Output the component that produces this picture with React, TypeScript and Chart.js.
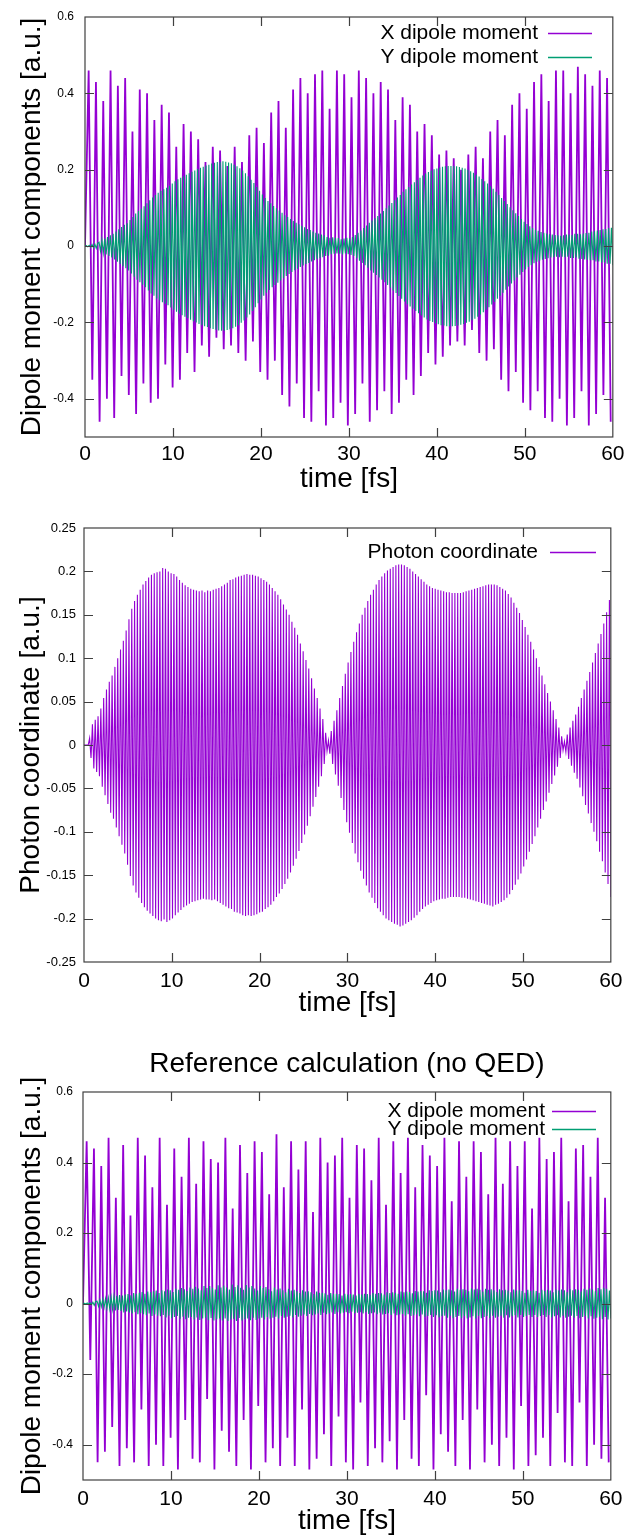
import { useEffect, useRef } from "react";
import { Chart, registerables } from "chart.js";

Chart.register(...registerables);

const FONT = '"Liberation Sans", Arial, Helvetica, sans-serif';
const PURPLE = "#9400D3";
const GREEN = "#009E73";
const FRAME = "#404040";

// ---- tick values ----
const TIME_TICKS = [0, 10, 20, 30, 40, 50, 60];
const DIPOLE_TICKS = [-0.4, -0.2, 0, 0.2, 0.4, 0.6];
const PHOTON_TICKS = [-0.25, -0.2, -0.15, -0.1, -0.05, 0, 0.05, 0.1, 0.15, 0.2, 0.25];

// ---- sampling of the read extrema (fs between successive values) ----
const DIPOLE_STEP = 0.415;
const FAST_STEP = 0.16;

// ---- panel 1: QED run, X dipole moment (successive extrema) ----
const qedX = [
  0,
  0.46, -0.35, 0.43, -0.46, 0.38, -0.4, 0.46, -0.45, 0.42, -0.34,
  0.44, -0.39, 0.3, -0.44, 0.41, -0.36, 0.4, -0.41, 0.33, -0.4,
  0.37, -0.31, 0.35, -0.37, 0.26, -0.35, 0.32, -0.28, 0.3, -0.33,
  0.28, -0.26, 0.22, -0.29, 0.26, -0.24, 0.25, -0.27, 0.21, -0.26,
  0.26, -0.28, 0.22, -0.3, 0.29, -0.25, 0.31, -0.33, 0.27, -0.35,
  0.35, -0.3, 0.38, -0.39, 0.31, -0.42, 0.41, -0.36, 0.44, -0.45,
  0.4, -0.46, 0.45, -0.38, 0.46, -0.47, 0.36, -0.45, 0.46, -0.41,
  0.45, -0.47, 0.39, -0.44, 0.46, -0.36, 0.44, -0.46, 0.4, -0.43,
  0.43, -0.38, 0.41, -0.44, 0.33, -0.41, 0.39, -0.35, 0.37, -0.39,
  0.3, -0.34, 0.32, -0.28, 0.29, -0.31, 0.24, -0.29, 0.25, -0.26,
  0.23, -0.25, 0.2, -0.26, 0.24, -0.22, 0.26, -0.28, 0.23, -0.3,
  0.3, -0.27, 0.33, -0.35, 0.29, -0.38, 0.37, -0.33, 0.4, -0.41,
  0.36, -0.43, 0.43, -0.38, 0.45, -0.45, 0.38, -0.46, 0.46, -0.4,
  0.46, -0.47, 0.4, -0.45, 0.47, -0.38, 0.45, -0.47, 0.42, -0.44,
  0.46, -0.39, 0.44, -0.46,
];

// ---- panel 1: QED run, Y dipole moment (successive extrema) ----
const qedY = [
  0, 0.001, -0.002, 0.002, -0.003, 0.004, -0.004, 0.005, -0.006, 0.007,
  0.01, -0.013, 0.016, -0.018, 0.02, -0.022, 0.024, -0.026, 0.028, -0.03,
  0.032, -0.035, 0.038, -0.041, 0.044, -0.047, 0.05, -0.053, 0.056, -0.058,
  0.06, -0.064, 0.068, -0.072, 0.076, -0.08, 0.085, -0.088, 0.092, -0.095,
  0.098, -0.101, 0.104, -0.108, 0.112, -0.116, 0.12, -0.124, 0.127, -0.13,
  0.134, -0.137, 0.14, -0.142, 0.145, -0.147, 0.149, -0.151, 0.153, -0.155,
  0.158, -0.161, 0.164, -0.167, 0.17, -0.172, 0.175, -0.177, 0.179, -0.181,
  0.183, -0.185, 0.187, -0.189, 0.191, -0.193, 0.195, -0.197, 0.198, -0.2,
  0.202, -0.204, 0.205, -0.207, 0.208, -0.21, 0.211, -0.212, 0.213, -0.215,
  0.216, -0.217, 0.218, -0.219, 0.22, -0.221, 0.221, -0.222, 0.222, -0.222,
  0.221, -0.22, 0.219, -0.218, 0.217, -0.215, 0.213, -0.211, 0.209, -0.207,
  0.204, -0.201, 0.198, -0.195, 0.191, -0.187, 0.183, -0.179, 0.174, -0.17,
  0.165, -0.16, 0.155, -0.15, 0.145, -0.14, 0.135, -0.13, 0.126, -0.122,
  0.118, -0.115, 0.112, -0.108, 0.105, -0.102, 0.099, -0.096, 0.093, -0.09,
  0.087, -0.084, 0.081, -0.078, 0.076, -0.073, 0.071, -0.068, 0.066, -0.063,
  0.061, -0.059, 0.057, -0.055, 0.053, -0.051, 0.049, -0.047, 0.045, -0.044,
  0.042, -0.04, 0.038, -0.037, 0.035, -0.034, 0.033, -0.031, 0.03, -0.029,
  0.028, -0.026, 0.024, -0.025, 0.022, -0.021, 0.023, -0.02, 0.022, -0.019,
  0.021, -0.02, 0.018, -0.022, 0.02, -0.019, 0.022, -0.021, 0.02, -0.023,
  0.024, -0.026, 0.029, -0.032, 0.035, -0.038, 0.041, -0.044, 0.047, -0.05,
  0.054, -0.057, 0.061, -0.064, 0.067, -0.07, 0.073, -0.076, 0.079, -0.082,
  0.085, -0.088, 0.092, -0.095, 0.099, -0.102, 0.106, -0.109, 0.113, -0.116,
  0.12, -0.123, 0.127, -0.131, 0.134, -0.138, 0.142, -0.145, 0.149, -0.152,
  0.155, -0.158, 0.161, -0.164, 0.167, -0.17, 0.173, -0.176, 0.179, -0.182,
  0.185, -0.187, 0.19, -0.192, 0.194, -0.196, 0.198, -0.199, 0.201, -0.202,
  0.203, -0.205, 0.206, -0.207, 0.208, -0.208, 0.209, -0.21, 0.21, -0.21,
  0.21, -0.21, 0.21, -0.209, 0.209, -0.208, 0.207, -0.206, 0.205, -0.204,
  0.203, -0.201, 0.2, -0.198, 0.196, -0.194, 0.192, -0.19, 0.187, -0.185,
  0.182, -0.179, 0.176, -0.173, 0.17, -0.167, 0.164, -0.16, 0.157, -0.153,
  0.15, -0.146, 0.142, -0.138, 0.134, -0.13, 0.126, -0.122, 0.118, -0.114,
  0.11, -0.106, 0.102, -0.098, 0.094, -0.09, 0.086, -0.082, 0.079, -0.075,
  0.071, -0.068, 0.064, -0.061, 0.058, -0.055, 0.052, -0.05, 0.047, -0.045,
  0.043, -0.041, 0.04, -0.038, 0.037, -0.036, 0.035, -0.034, 0.033, -0.032,
  0.031, -0.03, 0.03, -0.029, 0.029, -0.028, 0.028, -0.029, 0.027, -0.028,
  0.028, -0.029, 0.03, -0.028, 0.03, -0.031, 0.029, -0.031, 0.032, -0.03,
  0.032, -0.033, 0.031, -0.034, 0.033, -0.035, 0.034, -0.036, 0.035, -0.037,
  0.038, -0.037, 0.039, -0.04, 0.041, -0.04, 0.042, -0.043, 0.044, -0.043,
  0.045, -0.046, 0.047, -0.046, 0.048, -0.05,
];

// ---- panel 2: photon coordinate (successive extrema) ----
const photon = [
  0, 0, 0, 0, 0.008, -0.015, 0.024, -0.027, 0.029, -0.031,
  0.033, -0.036, 0.042, -0.048, 0.054, -0.058, 0.064, -0.068, 0.073, -0.078,
  0.08, -0.085, 0.09, -0.095, 0.1, -0.105, 0.11, -0.115, 0.12, -0.125,
  0.132, -0.138, 0.145, -0.151, 0.157, -0.162, 0.166, -0.17, 0.173, -0.176,
  0.179, -0.182, 0.185, -0.187, 0.189, -0.191, 0.193, -0.194, 0.196, -0.197,
  0.198, -0.2, 0.199, -0.202, 0.2, -0.203, 0.204, -0.201, 0.203, -0.204,
  0.2, -0.202, 0.198, -0.2, 0.197, -0.196, 0.194, -0.193, 0.19, -0.19,
  0.187, -0.187, 0.184, -0.185, 0.182, -0.183, 0.18, -0.181, 0.179, -0.18,
  0.178, -0.179, 0.177, -0.178, 0.178, -0.177, 0.176, -0.178, 0.178, -0.178,
  0.177, -0.179, 0.179, -0.178, 0.18, -0.18, 0.181, -0.182, 0.183, -0.184,
  0.185, -0.186, 0.187, -0.188, 0.19, -0.189, 0.191, -0.192, 0.193, -0.193,
  0.194, -0.194, 0.195, -0.196, 0.196, -0.197, 0.197, -0.196, 0.196, -0.197,
  0.196, -0.196, 0.195, -0.195, 0.194, -0.193, 0.192, -0.192, 0.19, -0.189,
  0.188, -0.187, 0.185, -0.184, 0.181, -0.18, 0.177, -0.175, 0.173, -0.171,
  0.168, -0.166, 0.162, -0.16, 0.156, -0.154, 0.15, -0.147, 0.142, -0.139,
  0.135, -0.131, 0.127, -0.122, 0.117, -0.113, 0.108, -0.103, 0.098, -0.093,
  0.088, -0.082, 0.077, -0.071, 0.065, -0.06, 0.054, -0.048, 0.042, -0.036,
  0.03, -0.022, 0.014, -0.007, 0.005, -0.01, 0.016, -0.022, 0.028, -0.034,
  0.04, -0.047, 0.054, -0.061, 0.068, -0.075, 0.082, -0.089, 0.095, -0.101,
  0.107, -0.113, 0.119, -0.125, 0.13, -0.135, 0.14, -0.145, 0.15, -0.154,
  0.158, -0.162, 0.166, -0.17, 0.173, -0.176, 0.179, -0.182, 0.185, -0.188,
  0.19, -0.192, 0.194, -0.196, 0.198, -0.2, 0.201, -0.202, 0.203, -0.204,
  0.205, -0.206, 0.207, -0.207, 0.208, -0.209, 0.208, -0.208, 0.207, -0.206,
  0.205, -0.204, 0.203, -0.202, 0.2, -0.199, 0.197, -0.196, 0.194, -0.192,
  0.191, -0.189, 0.188, -0.186, 0.185, -0.184, 0.183, -0.182, 0.181, -0.18,
  0.18, -0.179, 0.179, -0.178, 0.178, -0.177, 0.177, -0.177, 0.176, -0.176,
  0.176, -0.175, 0.175, -0.175, 0.175, -0.175, 0.175, -0.175, 0.175, -0.176,
  0.176, -0.176, 0.177, -0.177, 0.178, -0.178, 0.179, -0.179, 0.18, -0.18,
  0.181, -0.181, 0.182, -0.182, 0.183, -0.183, 0.184, -0.184, 0.185, -0.185,
  0.185, -0.186, 0.185, -0.184, 0.184, -0.183, 0.182, -0.181, 0.18, -0.179,
  0.178, -0.176, 0.174, -0.172, 0.17, -0.167, 0.164, -0.161, 0.158, -0.155,
  0.152, -0.148, 0.144, -0.14, 0.136, -0.132, 0.127, -0.123, 0.119, -0.114,
  0.11, -0.105, 0.1, -0.095, 0.09, -0.085, 0.08, -0.075, 0.07, -0.065,
  0.06, -0.055, 0.05, -0.045, 0.04, -0.035, 0.03, -0.025, 0.02, -0.015,
  0.01, -0.006, 0.004, -0.008, 0.012, -0.016, 0.02, -0.024, 0.028, -0.032,
  0.035, -0.039, 0.044, -0.049, 0.054, -0.059, 0.064, -0.069, 0.074, -0.079,
  0.084, -0.09, 0.095, -0.1, 0.106, -0.111, 0.117, -0.123, 0.128, -0.134,
  0.14, -0.147, 0.153, -0.16, 0.167, -0.175,
];

// ---- panel 3: reference run (no QED), X dipole moment ----
const refX = [
  0,
  0.46, -0.16, 0.44, -0.45, 0.39, -0.42, 0.47, -0.35, 0.3, -0.46,
  0.45, -0.41, 0.25, -0.45, 0.47, -0.3, 0.42, -0.46, 0.33, -0.4,
  0.47, -0.46, 0.28, -0.38, 0.44, -0.47, 0.36, -0.33, 0.47, -0.44,
  0.34, -0.45, 0.46, -0.27, 0.41, -0.47, 0.4, -0.36, 0.47, -0.42,
  0.27, -0.46, 0.45, -0.33, 0.37, -0.47, 0.46, -0.29, 0.43, -0.45,
  0.31, -0.41, 0.48, -0.46, 0.33, -0.38, 0.46, -0.46, 0.38, -0.3,
  0.46, -0.47, 0.26, -0.44, 0.47, -0.37, 0.4, -0.46, 0.42, -0.32,
  0.47, -0.45, 0.3, -0.47, 0.45, -0.28, 0.44, -0.46, 0.35, -0.41,
  0.47, -0.45, 0.28, -0.39, 0.46, -0.47, 0.37, -0.33, 0.47, -0.44,
  0.33, -0.46, 0.45, -0.26, 0.42, -0.47, 0.39, -0.37, 0.47, -0.42,
  0.29, -0.46, 0.46, -0.33, 0.36, -0.47, 0.46, -0.3, 0.43, -0.45,
  0.31, -0.4, 0.47, -0.46, 0.34, -0.38, 0.46, -0.47, 0.39, -0.29,
  0.46, -0.46, 0.27, -0.43, 0.47, -0.38, 0.41, -0.46, 0.43, -0.31,
  0.47, -0.45, 0.29, -0.46, 0.44, -0.28, 0.45, -0.46, 0.36, -0.4,
  0.47, -0.44, 0.3, -0.45,
];

// ---- panel 3: reference run (no QED), Y dipole moment (successive extrema) ----
const refY = [
  0, 0.001, -0.001, 0.002, -0.002, 0.003, -0.003, 0.004, -0.005, 0.006,
  0.007, -0.008, 0.01, -0.009, 0.012, -0.011, 0.014, -0.013, 0.016, -0.015,
  0.018, -0.016, 0.02, -0.019, 0.022, -0.018, 0.024, -0.021, 0.023, -0.025,
  0.026, -0.022, 0.027, -0.025, 0.024, -0.028, 0.03, -0.024, 0.028, -0.03,
  0.031, -0.027, 0.033, -0.03, 0.028, -0.033, 0.034, -0.028, 0.032, -0.035,
  0.035, -0.031, 0.037, -0.034, 0.03, -0.036, 0.038, -0.032, 0.035, -0.039,
  0.04, -0.034, 0.038, -0.041, 0.033, -0.038, 0.042, -0.035, 0.039, -0.043,
  0.044, -0.037, 0.041, -0.044, 0.036, -0.04, 0.046, -0.038, 0.042, -0.045,
  0.048, -0.039, 0.043, -0.046, 0.038, -0.042, 0.05, -0.04, 0.044, -0.047,
  0.05, -0.041, 0.045, -0.048, 0.04, -0.044, 0.052, -0.042, 0.046, -0.048,
  0.051, -0.042, 0.046, -0.049, 0.04, -0.045, 0.054, -0.043, 0.047, -0.049,
  0.052, -0.041, 0.045, -0.048, 0.039, -0.044, 0.053, -0.042, 0.046, -0.047,
  0.05, -0.04, 0.043, -0.046, 0.037, -0.042, 0.05, -0.04, 0.044, -0.045,
  0.047, -0.038, 0.041, -0.043, 0.035, -0.04, 0.046, -0.037, 0.04, -0.042,
  0.043, -0.035, 0.038, -0.04, 0.032, -0.037, 0.042, -0.034, 0.037, -0.039,
  0.039, -0.032, 0.035, -0.037, 0.03, -0.034, 0.038, -0.031, 0.034, -0.035,
  0.035, -0.029, 0.032, -0.033, 0.027, -0.031, 0.034, -0.028, 0.031, -0.032,
  0.031, -0.026, 0.029, -0.03, 0.025, -0.028, 0.03, -0.025, 0.028, -0.029,
  0.028, -0.024, 0.027, -0.028, 0.023, -0.026, 0.028, -0.024, 0.026, -0.027,
  0.027, -0.023, 0.026, -0.027, 0.023, -0.026, 0.028, -0.024, 0.026, -0.028,
  0.028, -0.024, 0.027, -0.029, 0.025, -0.027, 0.03, -0.025, 0.028, -0.03,
  0.03, -0.026, 0.029, -0.031, 0.026, -0.029, 0.032, -0.027, 0.03, -0.032,
  0.032, -0.028, 0.031, -0.033, 0.028, -0.031, 0.034, -0.029, 0.032, -0.034,
  0.034, -0.03, 0.033, -0.035, 0.029, -0.033, 0.036, -0.031, 0.034, -0.036,
  0.036, -0.031, 0.035, -0.037, 0.031, -0.035, 0.038, -0.032, 0.036, -0.038,
  0.038, -0.033, 0.037, -0.039, 0.032, -0.036, 0.04, -0.034, 0.038, -0.04,
  0.04, -0.034, 0.038, -0.041, 0.034, -0.038, 0.042, -0.035, 0.039, -0.041,
  0.041, -0.035, 0.039, -0.042, 0.035, -0.039, 0.043, -0.036, 0.04, -0.042,
  0.042, -0.035, 0.039, -0.041, 0.034, -0.038, 0.042, -0.035, 0.039, -0.041,
  0.041, -0.034, 0.038, -0.04, 0.033, -0.037, 0.041, -0.034, 0.038, -0.04,
  0.039, -0.033, 0.037, -0.039, 0.032, -0.036, 0.04, -0.033, 0.037, -0.039,
  0.038, -0.032, 0.036, -0.038, 0.031, -0.035, 0.039, -0.032, 0.036, -0.038,
  0.038, -0.032, 0.036, -0.038, 0.031, -0.035, 0.039, -0.032, 0.036, -0.038,
  0.039, -0.033, 0.037, -0.039, 0.032, -0.036, 0.04, -0.033, 0.037, -0.039,
  0.04, -0.034, 0.038, -0.04, 0.033, -0.037, 0.041, -0.034, 0.038, -0.04,
  0.041, -0.035, 0.039, -0.041, 0.034, -0.038, 0.042, -0.035, 0.039, -0.042,
  0.043, -0.036, 0.04, -0.043, 0.035, -0.04, 0.044, -0.037, 0.041, -0.044,
  0.045, -0.038, 0.042, -0.045, 0.037, -0.042,
];

type Series = { label: string; color: string; values: number[]; step: number; width: number; order: number };
type PanelSpec = {
  top: number;
  height: number;
  area: { left: number; top: number; right: number; bottom: number };
  yMin: number;
  yMax: number;
  yTicks: number[];
  yTickSize: number;
  yTickPad: number;
  xTickPad: number;
  yTitle: string;
  yTitleCenter: number;
  xTitleCenter: number;
  series: Series[];
  legend: { textRight: number; lineStart: number; lineEnd: number; rows: number[] };
  title?: { text: string; y: number };
};

const WIDTH = 631;

const PANELS: PanelSpec[] = [
  {
    top: 0,
    height: 500,
    area: { left: 85, top: 11, right: 616, bottom: 437 },
    yMin: -0.5,
    yMax: 0.6,
    yTicks: DIPOLE_TICKS,
    yTickSize: 12,
    yTickPad: 11,
    xTickPad: 6.5,
    yTitle: "Dipole moment components [a.u.]",
    yTitleCenter: 32,
    xTitleCenter: 479,
    series: [
      { label: "X dipole moment", color: PURPLE, values: qedX, step: DIPOLE_STEP, width: 1.8, order: 1 },
      { label: "Y dipole moment", color: GREEN, values: qedY, step: FAST_STEP, width: 1.1, order: 0 },
    ],
    legend: { textRight: 538, lineStart: 548, lineEnd: 592, rows: [33, 57] },
  },
  {
    top: 500,
    height: 520,
    area: { left: 84, top: 28, right: 617, bottom: 462 },
    yMin: -0.25,
    yMax: 0.25,
    yTicks: PHOTON_TICKS,
    yTickSize: 13,
    yTickPad: 8,
    xTickPad: 8.5,
    yTitle: "Photon coordinate [a.u.]",
    yTitleCenter: 31,
    xTitleCenter: 503,
    series: [
      { label: "Photon coordinate", color: PURPLE, values: photon, step: FAST_STEP, width: 1.1, order: 0 },
    ],
    legend: { textRight: 538, lineStart: 550, lineEnd: 596, rows: [52] },
  },
  {
    top: 1020,
    height: 519,
    area: { left: 83, top: 72, right: 614, bottom: 460 },
    yMin: -0.5,
    yMax: 0.6,
    yTicks: DIPOLE_TICKS,
    yTickSize: 12,
    yTickPad: 10,
    xTickPad: 8.5,
    yTitle: "Dipole moment components [a.u.]",
    yTitleCenter: 32,
    xTitleCenter: 501,
    series: [
      { label: "X dipole moment", color: PURPLE, values: refX, step: DIPOLE_STEP, width: 1.8, order: 1 },
      { label: "Y dipole moment", color: GREEN, values: refY, step: FAST_STEP, width: 1.1, order: 0 },
    ],
    legend: { textRight: 545, lineStart: 552, lineEnd: 596, rows: [91, 109] },
    title: { text: "Reference calculation (no QED)", y: 44 },
  },
];

function fmt(v: number): string {
  return String(Number(Number(v).toFixed(2)));
}

function buildConfig(p: PanelSpec): any {
  const a = p.area;
  const TITLE_SIZE = 28;
  const half = (TITLE_SIZE * 1.2) / 2;

  const framePlugin = {
    id: "gnuFrame",
    afterDatasetsDraw(chart: any) {
      const { ctx, chartArea: ca, scales } = chart;
      const L = 9;
      ctx.save();
      ctx.strokeStyle = FRAME;
      ctx.lineWidth = 1.2;
      ctx.strokeRect(ca.left, ca.top, ca.right - ca.left, ca.bottom - ca.top);
      ctx.beginPath();
      for (const t of scales.x.ticks) {
        const px = Math.round(scales.x.getPixelForValue(t.value)) + 0.5;
        if (px <= ca.left + 1 || px >= ca.right - 1) continue;
        ctx.moveTo(px, ca.bottom);
        ctx.lineTo(px, ca.bottom - L);
        ctx.moveTo(px, ca.top);
        ctx.lineTo(px, ca.top + L);
      }
      for (const t of scales.y.ticks) {
        const py = Math.round(scales.y.getPixelForValue(t.value)) + 0.5;
        if (py <= ca.top + 1 || py >= ca.bottom - 1) continue;
        ctx.moveTo(ca.left, py);
        ctx.lineTo(ca.left + L, py);
        ctx.moveTo(ca.right, py);
        ctx.lineTo(ca.right - L, py);
      }
      ctx.stroke();
      ctx.restore();
    },
    afterDraw(chart: any) {
      const { ctx, chartArea: ca } = chart;
      ctx.save();
      // legend (gnuplot style: text, then line sample)
      ctx.font = `21px ${FONT}`;
      ctx.textAlign = "right";
      ctx.textBaseline = "middle";
      p.series.forEach((s, i) => {
        const y = p.legend.rows[i];
        if (y === undefined) return;
        ctx.fillStyle = "#000";
        ctx.fillText(s.label, p.legend.textRight, y);
        ctx.strokeStyle = s.color;
        ctx.lineWidth = 1.3;
        ctx.beginPath();
        ctx.moveTo(p.legend.lineStart, y + 0.5);
        ctx.lineTo(p.legend.lineEnd, y + 0.5);
        ctx.stroke();
      });
      if (p.title) {
        ctx.font = `${TITLE_SIZE}px ${FONT}`;
        ctx.textAlign = "center";
        ctx.fillStyle = "#000";
        ctx.fillText(p.title.text, (ca.left + ca.right) / 2, p.title.y);
      }
      ctx.restore();
    },
  };

  return {
    type: "line",
    data: {
      datasets: p.series.map((s) => ({
        label: s.label,
        data: s.values.map((v, i) => ({ x: i * s.step, y: v })),
        borderColor: s.color,
        backgroundColor: s.color,
        borderWidth: s.width,
        pointRadius: 0,
        pointHoverRadius: 0,
        fill: false,
        tension: 0,
        order: s.order,
      })),
    },
    options: {
      animation: false,
      responsive: false,
      devicePixelRatio: 1,
      events: [],
      layout: { padding: { top: a.top, right: WIDTH - a.right, left: 0, bottom: 0 } },
      plugins: {
        legend: { display: false },
        tooltip: { enabled: false },
        title: { display: false },
      },
      scales: {
        x: {
          type: "linear",
          position: "bottom",
          min: 0,
          max: 60,
          afterBuildTicks: (s: any) => {
            s.ticks = TIME_TICKS.map((v) => ({ value: v }));
          },
          afterFit: (s: any) => {
            s.height = p.height - a.bottom;
          },
          grid: { display: false, drawTicks: false },
          border: { display: false },
          ticks: {
            autoSkip: false,
            maxRotation: 0,
            padding: p.xTickPad,
            color: "#000",
            font: { family: FONT, size: 21, lineHeight: 1 },
            callback: (v: any) => fmt(v),
          },
          title: {
            display: true,
            text: "time [fs]",
            color: "#000",
            font: { family: FONT, size: TITLE_SIZE, lineHeight: 1.2 },
            padding: { top: 0, bottom: p.height - p.xTitleCenter - half },
          },
        },
        y: {
          type: "linear",
          position: "left",
          min: p.yMin,
          max: p.yMax,
          afterBuildTicks: (s: any) => {
            s.ticks = p.yTicks.map((v) => ({ value: v }));
          },
          afterFit: (s: any) => {
            s.width = a.left;
          },
          grid: { display: false, drawTicks: false },
          border: { display: false },
          ticks: {
            autoSkip: false,
            padding: p.yTickPad,
            color: "#000",
            font: { family: FONT, size: p.yTickSize, lineHeight: 1 },
            callback: (v: any) => fmt(v),
          },
          title: {
            display: true,
            text: p.yTitle,
            color: "#000",
            font: { family: FONT, size: TITLE_SIZE, lineHeight: 1.2 },
            padding: { top: p.yTitleCenter - half, bottom: 0 },
          },
        },
      },
    },
    plugins: [framePlugin],
  };
}

function Panel({ spec }: { spec: PanelSpec }) {
  const ref = useRef<HTMLCanvasElement | null>(null);
  useEffect(() => {
    if (!ref.current) return;
    const chart = new Chart(ref.current, buildConfig(spec));
    return () => chart.destroy();
  }, [spec]);
  return (
    <canvas
      ref={ref}
      width={WIDTH}
      height={spec.height}
      style={{ position: "absolute", left: 0, top: spec.top, width: WIDTH, height: spec.height, display: "block" }}
    />
  );
}

export default function App() {
  useEffect(() => {
    document.body.style.margin = "0";
    document.body.style.background = "#fff";
  }, []);
  return (
    <div style={{ position: "relative", width: WIDTH, height: 1539, background: "#fff", overflow: "hidden" }}>
      {PANELS.map((p, i) => (
        <Panel key={i} spec={p} />
      ))}
    </div>
  );
}
